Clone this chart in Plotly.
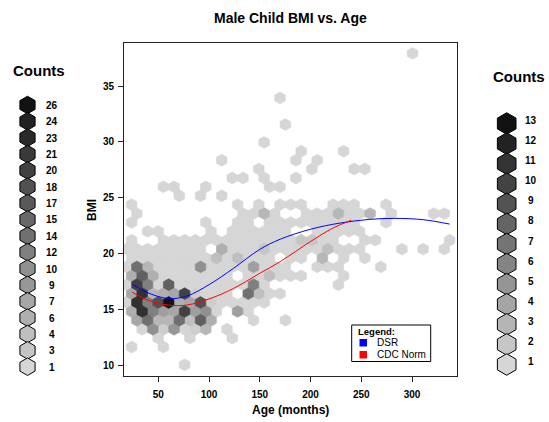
import plotly.graph_objects as go

# ---------------------------------------------------------------------------
# Hexagonal bins: centre age (months), centre BMI, number of children per bin
# ---------------------------------------------------------------------------
hex_age = [
    300.5,
    169.9,
    175.2,
    154.3,
    190.8, 232.6,
    112.5, 185.6, 206.5,
    149.0, 201.3, 243.0, 253.5,
    122.9, 133.4, 154.3, 185.6,
    55.0, 65.5, 96.8, 159.5, 169.9,
    70.7, 91.6, 112.5,
    23.7, 128.1, 149.0, 169.9, 180.4, 190.8, 222.2, 232.6, 243.0, 274.4,
    28.9, 133.4, 143.8, 154.3, 164.7, 196.0, 206.5, 216.9, 227.4, 237.8, 248.3, 258.7, 279.6, 321.4, 331.8,
    23.7, 96.8, 128.1, 138.6, 159.5, 169.9, 180.4, 190.8, 201.3, 211.7, 222.2, 232.6, 243.0, 274.4,
    39.4, 49.8, 102.0, 122.9, 133.4, 143.8, 154.3, 164.7, 175.2, 206.5, 216.9, 227.4, 237.8, 248.3,
    23.7, 55.0, 65.5, 75.9, 86.4, 96.8, 107.3, 117.7, 128.1, 138.6, 149.0, 159.5, 169.9, 180.4, 190.8, 201.3,
    211.7, 222.2, 253.5, 263.9, 337.0,
    18.5, 28.9, 39.4, 49.8, 60.2, 70.7, 81.1, 91.6, 112.5, 122.9, 133.4, 143.8, 154.3, 164.7, 175.2, 185.6,
    196.0, 206.5, 216.9, 227.4, 237.8, 248.3, 290.0, 310.9, 331.8,
    23.7, 34.1, 44.6, 55.0, 65.5, 75.9, 86.4, 96.8, 107.3, 117.7, 128.1, 138.6, 149.0, 159.5, 180.4, 190.8,
    211.7, 232.6, 253.5,
    18.5, 28.9, 39.4, 49.8, 60.2, 70.7, 81.1, 91.6, 102.0, 112.5, 122.9, 133.4, 143.8, 154.3, 164.7, 175.2,
    206.5, 216.9, 227.4, 269.2,
    23.7, 34.1, 44.6, 55.0, 65.5, 75.9, 86.4, 96.8, 107.3, 117.7, 138.6, 149.0, 159.5, 169.9, 180.4, 190.8,
    232.6,
    18.5, 28.9, 39.4, 49.8, 60.2, 70.7, 81.1, 91.6, 102.0, 112.5, 122.9, 133.4, 143.8, 154.3, 227.4,
    23.7, 34.1, 44.6, 55.0, 65.5, 75.9, 86.4, 96.8, 107.3, 117.7, 138.6, 149.0, 159.5, 169.9,
    18.5, 28.9, 39.4, 49.8, 60.2, 70.7, 81.1, 91.6, 102.0, 112.5, 122.9, 133.4, 143.8, 154.3,
    23.7, 34.1, 44.6, 55.0, 65.5, 75.9, 86.4, 96.8, 107.3, 128.1, 138.6,
    28.9, 39.4, 49.8, 60.2, 70.7, 81.1, 91.6, 102.0, 143.8, 175.2,
    34.1, 44.6, 55.0, 65.5, 75.9, 86.4, 96.8, 117.7,
    49.8, 81.1, 122.9,
    23.7, 55.0,
    75.9,
]

hex_bmi = (
    [37.92] * 1 + [33.94] * 1 + [31.56] * 1 + [29.96] * 1 + [29.17] * 2 + [28.37] * 3
    + [27.58] * 4 + [26.78] * 4 + [25.99] * 5 + [25.19] * 3 + [24.40] * 10 + [23.60] * 15
    + [22.81] * 14 + [22.01] * 14 + [21.22] * 21 + [20.42] * 25 + [19.62] * 19 + [18.83] * 20
    + [18.03] * 17 + [17.24] * 15 + [16.44] * 14 + [15.65] * 14 + [14.85] * 11 + [14.06] * 10
    + [13.26] * 8 + [12.47] * 3 + [11.67] * 2 + [10.08] * 1
)

hex_count = [
    1,
    1,
    1,
    1,
    1, 1,
    1, 1, 1,
    1, 1, 1, 1,
    1, 1, 1, 1,
    1, 1, 1, 1, 1,
    1, 1, 1,
    1, 1, 1, 1, 1, 1, 1, 1, 1, 1,
    1, 1, 1, 5, 1, 1, 1, 1, 5, 1, 1, 5, 1, 1, 1,
    1, 1, 1, 1, 1, 1, 1, 1, 1, 1, 1, 1, 1, 1,
    1, 1, 1, 1, 1, 1, 1, 1, 1, 1, 1, 1, 1, 1,
    1, 1, 1, 1, 1, 1, 1, 1, 1, 1, 1, 1, 1, 1, 3, 3,
    1, 1, 1, 1, 1,
    1, 1, 1, 1, 1, 1, 1, 1, 6, 1, 1, 1, 3, 1, 1, 1,
    1, 1, 4, 1, 1, 1, 1, 1, 1,
    1, 1, 1, 1, 1, 1, 1, 1, 4, 1, 4, 1, 1, 1, 1, 1,
    5, 1, 1,
    1, 14, 5, 1, 1, 1, 1, 10, 1, 1, 1, 1, 8, 1, 1, 1,
    1, 1, 1, 1,
    6, 16, 6, 1, 1, 1, 1, 1, 1, 1, 1, 1, 4, 1, 1, 1,
    1,
    1, 20, 12, 1, 16, 1, 1, 1, 1, 1, 1, 1, 12, 1, 1,
    7, 22, 5, 6, 7, 20, 2, 1, 1, 1, 14, 4, 1, 1,
    1, 22, 12, 18, 26, 6, 7, 18, 2, 1, 1, 1, 1, 1,
    6, 22, 12, 8, 7, 20, 8, 10, 1, 8, 1,
    7, 14, 5, 5, 14, 4, 16, 6, 1, 1,
    1, 10, 2, 9, 1, 2, 5, 1,
    1, 1, 1,
    1, 1,
    1,
]

# Reference curves
dsr_age = [24.4, 38.6, 60.0, 78.0, 101.0, 124.0, 150.0, 170.0, 200.0, 229.0, 258.0, 283.0, 311.0, 337.0]
dsr_bmi = [17.30, 16.56, 16.00, 16.22, 17.30, 18.70, 20.40, 21.30, 22.20, 22.75, 23.08, 23.17, 23.05, 22.66]
cdc_age = [24.4, 40.0, 60.0, 78.0, 101.0, 124.0, 150.0, 170.0, 200.0, 222.0, 240.0]
cdc_bmi = [16.56, 15.85, 15.42, 15.42, 16.00, 16.90, 18.26, 19.30, 21.10, 22.30, 23.00]

# Count keys
left_key_counts = [26, 24, 23, 21, 20, 18, 17, 15, 14, 12, 10, 9, 7, 6, 4, 3, 1]
right_key_counts = [13, 12, 11, 10, 9, 8, 7, 6, 5, 4, 3, 2, 1]

x_ticks = [50, 100, 150, 200, 250, 300]
y_ticks = [10, 15, 20, 25, 30, 35]

# ---------------------------------------------------------------------------
W, H = 549, 422
PL, PR, PT, PB = 124.0, 457.3, 43.3, 375.7      # plot area in pixels
X_RANGE = [16.2, 344.6]
Y_RANGE = [9.106, 38.82]
HALF_W = 5.222     # hexagon half width (months)
RAD = 0.530        # hexagon vertical radius (BMI)
FONT = "Liberation Sans, Arial, Helvetica, sans-serif"
CLEAR = "rgba(0,0,0,0)"


def shade(c, cmax):
    g = 0.84 - 0.77 * (c - 1) / (cmax - 1)
    v = int(round(255 * g))
    return f"rgb({v},{v},{v})"


fig = go.Figure()

# hexagons grouped by count
for c in sorted(set(hex_count)):
    xs, ys = [], []
    for a, b, n in zip(hex_age, hex_bmi, hex_count):
        if n != c:
            continue
        xs += [a, a + HALF_W, a + HALF_W, a, a - HALF_W, a - HALF_W, a, None]
        ys += [b + RAD, b + RAD / 2, b - RAD / 2, b - RAD, b - RAD / 2, b + RAD / 2, b + RAD, None]
    col = shade(c, 26)
    fig.add_trace(go.Scatter(
        x=xs, y=ys, mode="lines", fill="toself", fillcolor=col,
        line=dict(color=col, width=0.6), hoverinfo="skip", showlegend=False,
    ))

fig.add_trace(go.Scatter(x=dsr_age, y=dsr_bmi, mode="lines",
                         line=dict(color="#0000ff", width=1, shape="spline", smoothing=1.0),
                         showlegend=False, hoverinfo="skip"))
fig.add_trace(go.Scatter(x=cdc_age, y=cdc_bmi, mode="lines",
                         line=dict(color="#ff0000", width=1, shape="spline", smoothing=1.0),
                         showlegend=False, hoverinfo="skip"))

# count keys drawn on a full-page pixel overlay
left_y = [105 + i * (366.7 - 105) / (len(left_key_counts) - 1) for i in range(len(left_key_counts))]
right_y = [123.5 + i * (364.5 - 123.5) / (len(right_key_counts) - 1) for i in range(len(right_key_counts))]

fig.add_trace(go.Scatter(
    x=[27.5] * len(left_key_counts), y=left_y, mode="markers", xaxis="x2", yaxis="y2",
    marker=dict(symbol="hexagon", size=17.5,
                color=[shade(c, 26) for c in left_key_counts],
                line=dict(color="black", width=1)),
    cliponaxis=False, showlegend=False, hoverinfo="skip"))
fig.add_trace(go.Scatter(
    x=[506.7] * len(right_key_counts), y=right_y, mode="markers", xaxis="x2", yaxis="y2",
    marker=dict(symbol="hexagon", size=21.5,
                color=[shade(c, 13) for c in right_key_counts],
                line=dict(color="black", width=1)),
    cliponaxis=False, showlegend=False, hoverinfo="skip"))

ann = []


def label(x, y, text, size, bold=True, **kw):
    ann.append(dict(x=x, y=y, xref="x2", yref="y2", text=f"<b>{text}</b>" if bold else text,
                    showarrow=False, font=dict(family=FONT, size=size, color="black"), **kw))


for c, y in zip(left_key_counts, left_y):
    label(51.5, y + 0.5, str(c), 10)
for c, y in zip(right_key_counts, right_y):
    label(530.5, y - 3, str(c), 10)

label(39, 70, "Counts", 15)
label(519, 76, "Counts", 15)
label(290.5, 18, "Male Child BMI vs. Age", 14)
label(290.5, 410, "Age (months)", 12)
label(92, 210, "BMI", 12, textangle=-90)

# line key box
shapes = [
    dict(type="rect", xref="x2", yref="y2", x0=351.7, x1=430.7, y0=325, y1=361.5,
         line=dict(color="black", width=1), fillcolor="white", layer="above"),
    dict(type="rect", xref="x2", yref="y2", x0=359.5, x1=367, y0=339, y1=346.5,
         line=dict(width=0), fillcolor="#0000ff", layer="above"),
    dict(type="rect", xref="x2", yref="y2", x0=359.5, x1=367, y0=351, y1=358.5,
         line=dict(width=0), fillcolor="#ff0000", layer="above"),
]
label(356, 331, "Legend:", 9.5, xanchor="left")
label(375, 342.7, "DSR", 10, bold=False, xanchor="left")
label(375, 354.7, "CDC Norm", 10, bold=False, xanchor="left")

axis_common = dict(showgrid=False, zeroline=False, showline=True, mirror=True,
                   linecolor="#222", linewidth=1, ticks="outside", ticklen=5,
                   tickcolor="#222", tickfont=dict(family=FONT, size=10, color="black", weight="bold"))

fig.update_layout(
    width=W, height=H, margin=dict(l=0, r=0, t=0, b=0),
    paper_bgcolor="white", plot_bgcolor=CLEAR,
    xaxis=dict(domain=[PL / W, PR / W], range=X_RANGE, tickvals=x_ticks,
               ticklabelstandoff=4, **axis_common),
    yaxis=dict(domain=[1 - PB / H, 1 - PT / H], range=Y_RANGE, tickvals=y_ticks,
               ticklabelstandoff=2, **axis_common),
    xaxis2=dict(domain=[0, 1], range=[0, W], visible=False, anchor="y2"),
    yaxis2=dict(domain=[0, 1], range=[H, 0], visible=False, anchor="x2"),
    shapes=shapes, annotations=ann, showlegend=False,
)

fig.write_html("out.html")
